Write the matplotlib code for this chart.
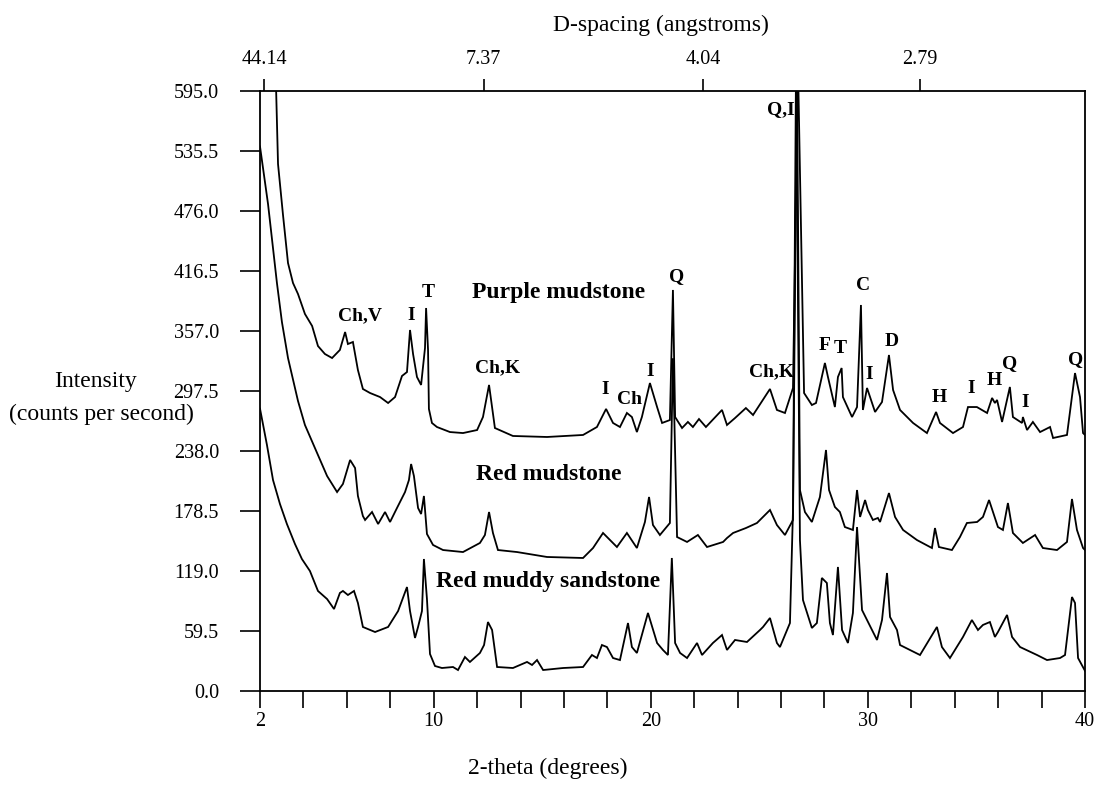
import matplotlib
matplotlib.use("Agg")
import matplotlib.pyplot as plt
import numpy as np

plt.rcParams['font.family'] = ['Liberation Serif', 'DejaVu Serif']

# ---------------- data (2-theta in degrees, intensity in counts per second) ----------------
purple_t = [2.69, 2.83, 3.06, 3.29, 3.52, 3.75, 4.07, 4.40, 4.67, 4.99, 5.32, 5.68, 5.92, 6.05,
            6.28, 6.51, 6.74, 7.07, 7.53, 7.90, 8.22, 8.54, 8.77, 8.91, 9.05, 9.23, 9.42, 9.60,
            9.65, 9.74, 9.78, 9.92, 10.15, 10.75, 11.35, 12.00, 12.27, 12.55, 12.82, 13.65, 15.22,
            16.88, 17.52, 17.94, 18.26, 18.58, 18.90, 19.13, 19.36, 19.59, 19.96, 20.29, 20.52,
            20.88, 21.02, 21.12, 21.44, 21.71, 21.94, 22.22, 22.54, 23.28, 23.51, 23.88, 24.38,
            24.71, 25.49, 25.81, 26.18, 26.55, 26.78, 27.06, 27.42, 27.61, 28.02, 28.16, 28.48,
            28.62, 28.79, 28.85, 29.27, 29.50, 29.68, 29.77, 29.96, 30.33, 30.65, 30.97, 31.16,
            31.48, 32.08, 32.72, 33.14, 33.32, 33.92, 34.38, 34.61, 35.02, 35.49, 35.72, 35.85,
            35.95, 36.18, 36.54, 36.68, 37.10, 37.14, 37.33, 37.60, 37.93, 38.39, 38.53, 39.17,
            39.54, 39.77, 39.91, 40.0]
purple_i = [640, 522.6, 472.0, 424.4, 404.6, 393.7, 373.9, 362.0, 342.1, 334.2, 330.2, 338.2, 356.0,
            344.1, 346.1, 318.3, 299.5, 295.5, 291.5, 285.6, 291.5, 312.4, 316.3, 358.0, 334.2,
            311.4, 303.5, 340.1, 379.8, 338.2, 279.7, 265.8, 261.8, 256.8, 255.8, 258.8, 271.7,
            303.5, 260.8, 252.9, 251.9, 253.9, 261.8, 279.7, 265.8, 261.8, 275.7, 271.7, 256.8,
            271.7, 305.4, 281.6, 265.8, 268.7, 397.7, 271.7, 260.8, 266.8, 261.8, 269.7, 261.8,
            278.7, 263.8, 270.7, 280.6, 273.7, 299.5, 278.7, 275.7, 300.5, 620, 295.5, 283.6,
            285.6, 325.3, 311.4, 281.6, 311.4, 320.3, 291.5, 271.7, 281.6, 382.8, 278.7, 300.5,
            276.7, 286.6, 333.2, 298.5, 278.7, 265.8, 255.8, 276.7, 265.8, 255.8, 261.8, 281.6,
            281.6, 275.7, 290.6, 285.6, 288.6, 266.8, 301.5, 271.7, 265.8, 271.7, 258.8, 266.8,
            256.8, 261.8, 250.9, 253.9, 315.3, 291.5, 255.8, 253.9]

red_t = [2.0, 2.37, 2.78, 3.01, 3.29, 3.75, 4.07, 4.63, 5.09, 5.55, 5.82, 6.15, 6.38, 6.51, 6.74,
         6.84, 7.16, 7.44, 7.76, 7.99, 8.31, 8.68, 8.86, 8.96, 9.09, 9.28, 9.42, 9.55, 9.69, 9.97,
         10.43, 11.35, 12.13, 12.36, 12.55, 12.73, 12.96, 13.84, 15.22, 16.88, 17.34, 17.80,
         18.44, 18.90, 19.36, 19.73, 19.92, 20.10, 20.42, 20.88, 21.02, 21.21, 21.67, 22.17,
         22.59, 23.33, 23.51, 23.79, 24.38, 24.89, 25.49, 25.81, 26.18, 26.55, 26.73, 26.87,
         27.10, 27.42, 27.79, 28.07, 28.21, 28.48, 28.71, 28.94, 29.31, 29.50, 29.64, 29.87,
         30.00, 30.23, 30.46, 30.56, 30.97, 31.25, 31.62, 32.26, 32.95, 33.09, 33.27, 33.87,
         34.24, 34.56, 35.03, 35.30, 35.58, 35.99, 36.22, 36.45, 36.68, 37.14, 37.70, 38.06,
         38.71, 39.17, 39.40, 39.63, 39.91, 40.0]
red_i = [540, 482.9, 404.6, 365.9, 330.2, 287.6, 263.8, 236.0, 213.2, 197.3, 205.3, 229.1, 221.1,
         193.4, 173.5, 169.6, 177.5, 165.6, 177.5, 167.6, 181.5, 197.3, 209.2, 225.1, 213.2,
         181.5, 175.5, 193.4, 155.7, 144.8, 139.8, 137.8, 146.8, 154.7, 177.5, 156.7, 139.8,
         137.8, 132.9, 131.9, 141.8, 156.7, 142.8, 156.7, 141.8, 167.6, 192.4, 164.6, 154.7,
         166.6, 330.0, 152.7, 147.8, 154.7, 142.8, 147.8, 151.7, 156.7, 161.6, 166.6, 179.5,
         164.6, 154.7, 169.6, 620, 199.3, 177.5, 167.6, 192.4, 239.0, 199.3, 182.5, 177.5,
         162.6, 159.7, 199.3, 172.6, 189.4, 179.5, 169.6, 171.6, 167.6, 196.3, 172.6, 159.7,
         149.7, 141.8, 161.6, 142.8, 139.8, 152.7, 166.6, 167.6, 172.6, 189.4, 162.6, 159.7,
         186.4, 156.7, 146.8, 154.7, 141.8, 139.8, 147.8, 190.4, 159.7, 141.8, 139.8]

sand_t = [2.0, 2.32, 2.60, 2.92, 3.24, 3.61, 3.93, 4.30, 4.67, 5.09, 5.41, 5.68, 5.82, 6.05, 6.33,
          6.51, 6.74, 7.30, 7.90, 8.36, 8.77, 8.91, 9.14, 9.28, 9.46, 9.55, 9.69, 9.83, 10.06,
          10.38, 10.89, 11.12, 11.44, 11.67, 12.13, 12.32, 12.50, 12.69, 12.92, 13.65, 14.30,
          14.53, 14.76, 15.04, 15.96, 16.88, 17.29, 17.52, 17.75, 17.98, 18.26, 18.58, 18.95,
          19.13, 19.36, 19.87, 20.29, 20.56, 20.79, 20.97, 21.12, 21.35, 21.67, 22.13, 22.36,
          22.86, 23.28, 23.51, 23.88, 24.43, 25.03, 25.17, 25.49, 25.81, 25.95, 26.41, 26.55,
          26.69, 26.87, 27.01, 27.42, 27.65, 27.88, 28.11, 28.25, 28.39, 28.62, 28.81, 29.08,
          29.31, 29.50, 29.73, 29.96, 30.19, 30.42, 30.65, 30.88, 31.02, 31.34, 31.48, 32.40,
          33.18, 33.41, 33.78, 34.38, 34.79, 35.07, 35.30, 35.62, 35.85, 35.99, 36.41, 36.64,
          37.01, 37.79, 38.25, 38.85, 39.08, 39.40, 39.54, 39.68, 40.0]
sand_i = [280, 244.0, 209.2, 185.4, 165.6, 145.8, 130.9, 119.0, 99.2, 91.2, 81.3, 97.2, 99.2, 95.2,
          99.2, 87.3, 63.5, 58.5, 63.5, 79.3, 103.1, 79.3, 52.6, 63.5, 79.3, 130.9, 91.2, 36.7,
          24.8, 22.8, 23.8, 20.8, 33.7, 28.8, 37.7, 45.6, 68.4, 60.5, 23.8, 22.8, 28.8, 25.8,
          30.7, 20.8, 22.8, 23.8, 35.7, 32.7, 45.6, 43.6, 32.7, 30.7, 67.4, 43.6, 37.7, 77.4,
          47.6, 40.7, 35.7, 131.9, 47.6, 37.7, 32.7, 47.6, 35.7, 47.6, 55.5, 40.7, 50.6, 48.6,
          60.5, 63.5, 72.4, 47.6, 43.6, 67.4, 179.5, 620, 149.7, 90.2, 62.5, 67.4, 112.1, 107.1,
          67.4, 55.5, 123.0, 60.5, 47.6, 77.4, 162.6, 80.3, 70.4, 60.5, 50.6, 70.4, 117.0, 73.4,
          60.5, 45.6, 35.7, 63.5, 43.6, 32.7, 53.6, 70.4, 60.5, 65.5, 68.4, 53.6, 58.5, 75.4,
          53.6, 43.6, 35.7, 30.7, 32.7, 35.7, 93.2, 87.3, 32.7, 20.0]

y_ticks = [0.0, 59.5, 119.0, 178.5, 238.0, 297.5, 357.0, 416.5, 476.0, 535.5, 595.0]
x_tick_labels = {2: '2', 10: '10', 20: '20', 30: '30', 40: '40'}
d_tick_pos = [2.2, 12.3, 22.4, 32.4]
d_tick_labels = ['44.14', '7.37', '4.04', '2.79']

peak_labels = [
    ('Ch,V', 6.61, 372.0), ('I', 8.95, 372.0), ('T', 9.74, 394.7),
    ('Ch,K', 12.92, 320.3), ('I', 17.91, 298.5), ('Ch', 19.02, 288.6), ('I', 19.96, 317.3),
    ('Q', 21.17, 411.5), ('Ch,K', 25.57, 316.3), ('Q,I', 25.97, 577.0),
    ('F', 28.02, 343.1), ('T', 28.74, 339.9), ('C', 29.80, 402.6), ('I', 30.08, 313.4),
    ('D', 31.08, 346.4), ('H', 33.29, 291.1), ('I', 34.77, 299.5), ('H', 35.82, 308.4),
    ('Q', 36.54, 324.7), ('I', 37.23, 285.6), ('Q', 39.57, 328.9),
]
sample_labels = [('Purple mudstone', 15.75, 395.2), ('Red mudstone', 15.31, 214.2),
                 ('Red muddy sandstone', 15.27, 108.1)]

# ---------------- figure ----------------
W, H = 1094, 787
PX = 72 / 100  # points per pixel at dpi 100
fig = plt.figure(figsize=(W / 100, H / 100), dpi=100)
ax = fig.add_axes([260 / W, 1 - 691 / H, 825 / W, 600 / H])

for t, i in ((purple_t, purple_i), (red_t, red_i), (sand_t, sand_i)):
    ax.plot(t, i, color='black', lw=1.3, solid_joinstyle='miter')

ax.set_xlim(2, 40)
ax.set_ylim(0, 595)

for s in ax.spines.values():
    s.set_linewidth(1.3)
    s.set_color('black')

xt = list(range(2, 41, 2))
ax.set_xticks(xt)
ax.set_xticklabels([x_tick_labels.get(v, '') for v in xt])
ax.set_yticks(y_ticks)
ax.set_yticklabels(['%.1f' % v for v in y_ticks])
ax.tick_params(axis='x', direction='out', length=17 * PX, width=1.2, labelsize=14.5, pad=4 * PX)
ax.tick_params(axis='y', direction='out', length=20 * PX, width=1.2, labelsize=14.5, pad=21 * PX)

ax2 = ax.twiny()
ax2.set_xlim(2, 40)
ax2.set_xticks(d_tick_pos)
ax2.set_xticklabels(d_tick_labels)
ax2.tick_params(axis='x', direction='out', length=12 * PX, width=1.2, labelsize=14.5, pad=10 * PX)
for s in ax2.spines.values():
    s.set_visible(False)

for txt, x, y in peak_labels:
    ax.text(x, y, txt, ha='center', va='center', fontsize=14, fontweight='bold')
for txt, x, y in sample_labels:
    ax.text(x, y, txt, ha='center', va='center', fontsize=17, fontweight='bold')

fig.text(661 / W, 1 - 25 / H, 'D-spacing (angstroms)', ha='center', va='center', fontsize=17)
fig.text(548 / W, 1 - 768 / H, '2-theta (degrees)', ha='center', va='center', fontsize=17)
fig.text(95 / W, 1 - 382 / H, 'Intensity', ha='center', va='center', fontsize=17)
fig.text(101 / W, 1 - 414 / H, '(counts per second)', ha='center', va='center', fontsize=17)

fig.savefig('out.png', dpi=100, facecolor='white')
